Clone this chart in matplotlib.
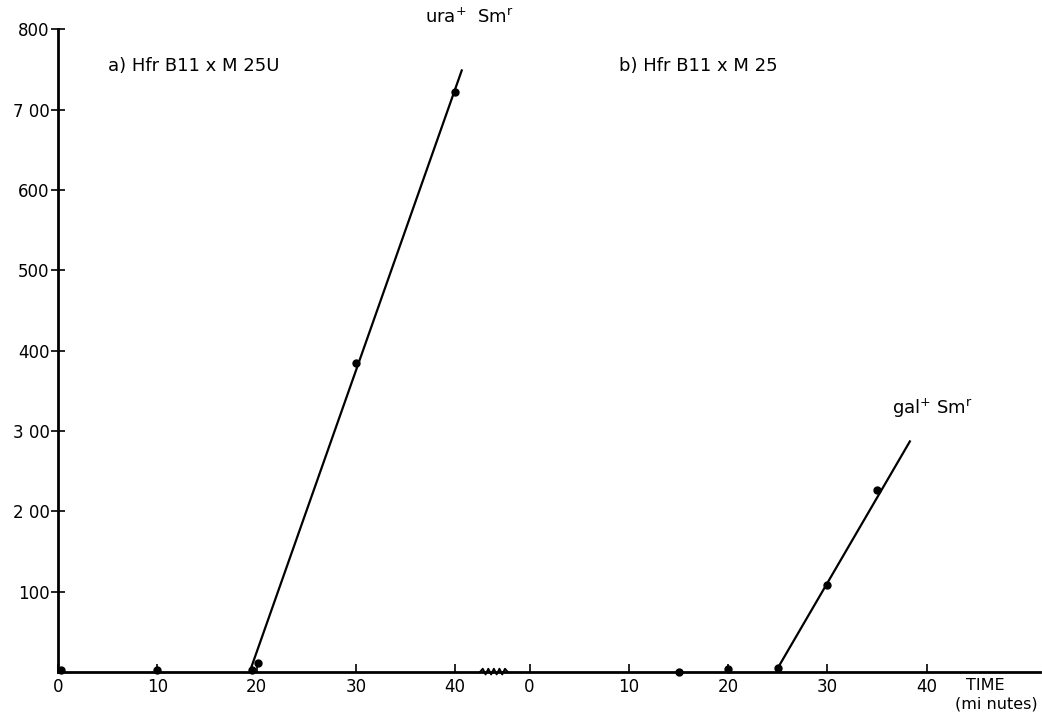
import numpy as np
import matplotlib.pyplot as plt

# ----------------------------
# Data
# ----------------------------

# a) Hfr B11 x M 25U  (ura+ Sm^r recombinants)
a_time = [0.3, 10, 19.5, 20.1, 30, 40]
a_count = [2, 3, 2, 11, 385, 722]
a_line_time = [19.3, 40.7]
a_line_count = [0, 750]

# b) Hfr B11 x M 25  (gal+ Sm^r recombinants)
b_time = [15, 20, 25, 30, 35]
b_count = [0, 4, 5, 108, 226]
b_line_time = [25, 38.3]
b_line_count = [5, 287]

tick_minutes = [0, 10, 20, 30, 40]
y_ticks = [100, 200, 300, 400, 500, 600, 700, 800]
y_ticklabels = ["100", "2 00", "3 00", "400", "500", "600", "7 00", "800"]

# panel b is drawn on the same axis, shifted right
b_offset = 47.5
break_start, break_end = 42.5, 45.3

plt.rcParams['font.family'] = ['DejaVu Sans']
plt.rcParams['mathtext.default'] = 'regular'

fig = plt.figure(figsize=(10.42, 7.13), dpi=100)
ax = fig.add_axes([0.0557, 0.0575, 0.9423, 0.9015])

# lines and points
ax.plot(a_line_time, a_line_count, color="black", lw=1.6, solid_capstyle="butt")
ax.plot(a_time, a_count, "o", color="black", ms=5, clip_on=False)
bt = [t + b_offset for t in b_time]
ax.plot([t + b_offset for t in b_line_time], b_line_count, color="black", lw=1.6)
ax.plot(bt, b_count, "o", color="black", ms=5, clip_on=False)

# zigzag marking the break in the time axis
zx = np.linspace(break_start, break_end, 11)
zy = np.array([0, 4, -3, 4, -3, 4, -3, 4, -3, 4, 0])
ax.plot(zx, zy, color="black", lw=1.4, clip_on=False)

ax.set_xlim(0, 98.9)
ax.set_ylim(0, 800)

xt = tick_minutes + [t + b_offset for t in tick_minutes]
ax.set_xticks(xt)
ax.set_xticklabels([str(t) for t in tick_minutes] * 2)
ax.set_yticks(y_ticks)
ax.set_yticklabels(y_ticklabels)
ax.tick_params(axis="x", direction="in", length=6, width=1.2, labelsize=12, pad=4)
ax.tick_params(axis="y", direction="inout", length=10, width=1.2, labelsize=12, pad=1)

for s in ["top", "right"]:
    ax.spines[s].set_visible(False)
ax.spines["left"].set_linewidth(2)
ax.spines["bottom"].set_linewidth(2)

# annotations
ax.text(5, 748, "a) Hfr B11 x M 25U", fontsize=13)
ax.text(56.5, 748, "b) Hfr B11 x M 25", fontsize=13)
ax.text(37, 808, r"ura$^{+}$  Sm$^{r}$", fontsize=13, clip_on=False)
ax.text(84, 322, r"gal$^{+}$ Sm$^{r}$", fontsize=13)
ax.text(91.5, -22, "TIME", fontsize=11.5, clip_on=False)
ax.text(90.3, -45, "(mi nutes)", fontsize=11.5, clip_on=False)

fig.savefig("out.png", dpi=100)
